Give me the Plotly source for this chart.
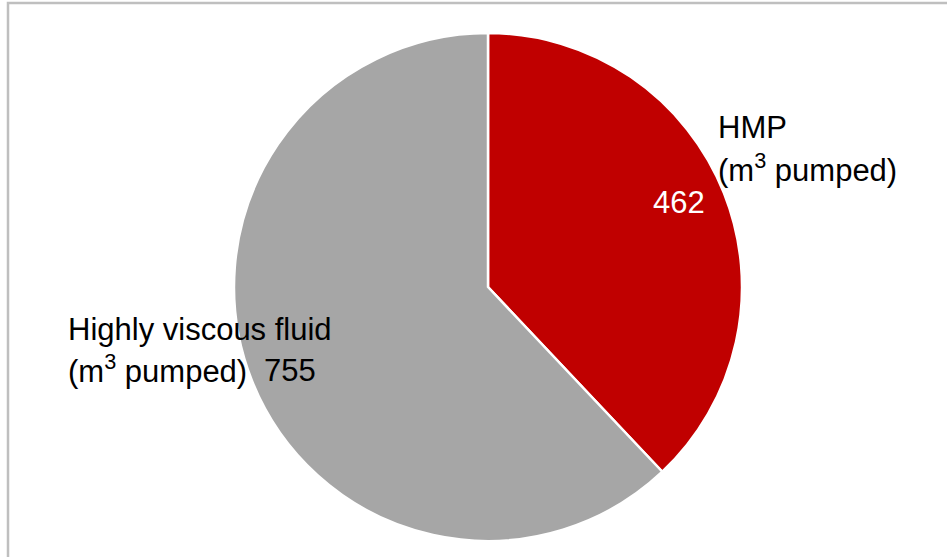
import plotly.graph_objects as go

labels = ["HMP", "Highly viscous fluid"]
values = [462, 755]
colors = ["#C00000", "#A6A6A6"]

W, H = 947, 557
cx, cy, r = 488, 287, 254

fig = go.Figure()
fig.add_trace(go.Pie(
    labels=labels, values=values, sort=False, direction="clockwise", rotation=0,
    marker=dict(colors=colors, line=dict(color="white", width=2.5)),
    textinfo="none", hoverinfo="label+value", showlegend=False,
    domain=dict(x=[(cx - r) / W, (cx + r) / W], y=[(H - cy - r) / H, (H - cy + r) / H]),
))

font = "Liberation Sans, Arial, sans-serif"
fs = 31

def ann(text, x, y, color="black"):
    fig.add_annotation(text=text, x=x / W, y=1 - y / H, xref="paper", yref="paper",
                       xanchor="left", yanchor="middle", showarrow=False,
                       font=dict(family=font, size=fs, color=color))

ann(labels[0], 716, 127)
ann("(m<sup>3</sup> pumped)", 716, 168)
ann(str(values[0]), 651, 203, "white")
ann(labels[1], 66, 329)
ann("(m<sup>3</sup> pumped)", 66, 369)
ann(str(values[1]), 262, 370)

fig.add_shape(type="rect", xref="paper", yref="paper",
              x0=8 / W, x1=1.05, y0=-0.05, y1=1 - 3 / H,
              line=dict(color="#BFBFBF", width=2.5), fillcolor="rgba(0,0,0,0)")

fig.update_layout(width=W, height=H, margin=dict(l=0, r=0, t=0, b=0),
                  paper_bgcolor="white", plot_bgcolor="white")
fig.write_html("out.html")
